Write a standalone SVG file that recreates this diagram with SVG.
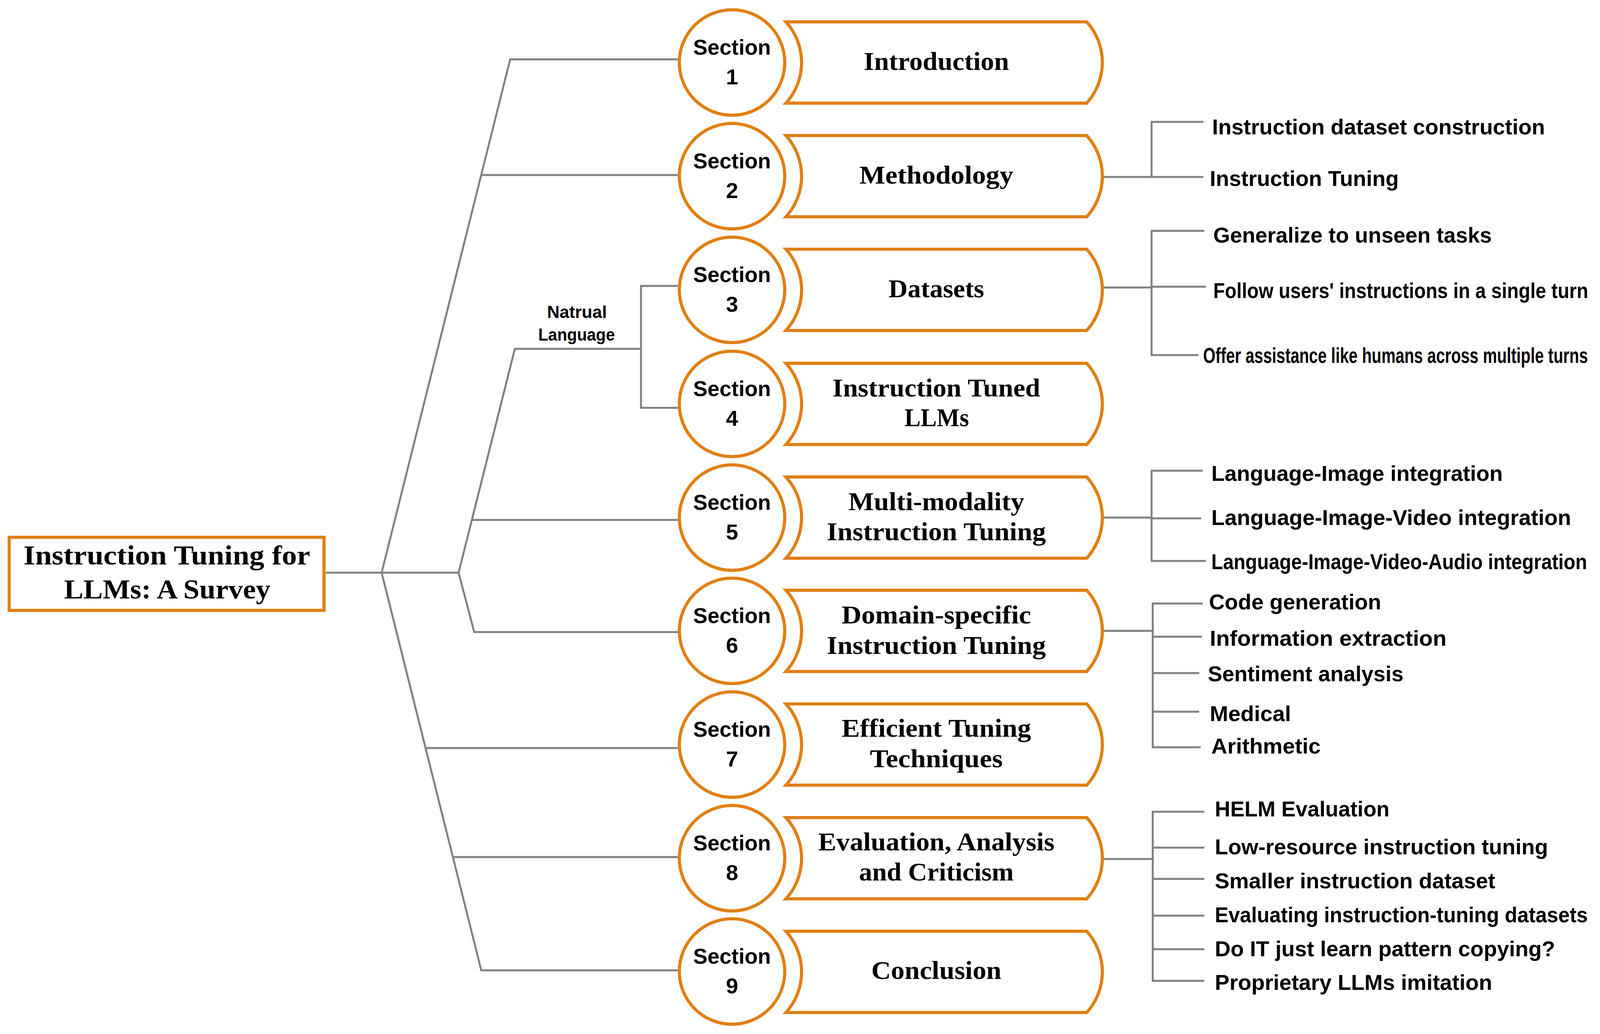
<svg xmlns="http://www.w3.org/2000/svg" width="4496" height="2647" viewBox="0 0 4496 2647">
<style>
.ln{fill:none;stroke:#808080;stroke-width:5;stroke-linejoin:miter}
.or{fill:#fff;stroke:#E07F12;stroke-width:8;stroke-miterlimit:10}
.sec{font-family:"Liberation Sans",Arial,sans-serif;font-weight:bold;font-size:56px;text-anchor:middle;fill:#000}
.ban{font-family:"Liberation Serif","Times New Roman",serif;font-weight:bold;font-size:66px;text-anchor:middle;fill:#000}
.root{font-family:"Liberation Serif","Times New Roman",serif;font-weight:bold;font-size:69px;text-anchor:middle;fill:#000}
.lab{font-family:"Liberation Sans",Arial,sans-serif;font-weight:bold;font-size:56px;fill:#000}
.nl{font-family:"Liberation Sans",Arial,sans-serif;font-weight:bold;font-size:44px;text-anchor:middle;fill:#000}
</style>
<rect width="4496" height="2647" fill="#fff"/>
<g id="connectors">
<path class="ln" d="M834,1466 H977"/>
<path class="ln" d="M1735,152 H1306 L977,1466 L1232,2484 H1735"/>
<path class="ln" d="M1232,448 H1735"/>
<path class="ln" d="M1092,1915 H1735"/>
<path class="ln" d="M1161,2194 H1735"/>
<path class="ln" d="M977,1466 H1174"/>
<path class="ln" d="M1641,893 H1318 L1174,1466 L1214,1618 H1735"/>
<path class="ln" d="M1208,1331 H1735"/>
<path class="ln" d="M1735,732 H1641 V1044 H1735"/>
<path class="ln" d="M2822,453 H3081 M3081,312 H2948 V453"/>
<path class="ln" d="M2822,736 H2948 M3083,591 H2948 V909 H3068 M2948,734 H3087"/>
<path class="ln" d="M2822,1325 H2948 M3079,1205 H2948 V1436 H3087 M2948,1327 H3075"/>
<path class="ln" d="M2822,1615 H2951 M3079,1545 H2951 V1913 H3074 M2951,1630 H3077 M2951,1723 H3070 M2951,1822 H3070"/>
<path class="ln" d="M2822,2199 H2951 M3083,2078 H2951 V2511 H3083 M2951,2170 H3083 M2951,2250 H3083 M2951,2344 H3083 M2951,2430 H3083"/>
</g>
<g id="root">
<rect class="or" x="23.5" y="1375.5" width="806" height="187" stroke-width="9"/>
<text class="root" x="427" y="1445" textLength="734" lengthAdjust="spacingAndGlyphs">Instruction Tuning for</text>
<text class="root" x="428" y="1532" textLength="528" lengthAdjust="spacingAndGlyphs">LLMs: A Survey</text>
</g>
<g id="natural-language">
<text class="nl" x="1477" y="814" textLength="153" lengthAdjust="spacingAndGlyphs">Natrual</text>
<text class="nl" x="1476" y="872" textLength="196" lengthAdjust="spacingAndGlyphs">Language</text>
</g>
<g id="section1">
<circle class="or" cx="1874" cy="160" r="135"/>
<text class="sec" x="1874" y="140" textLength="199" lengthAdjust="spacingAndGlyphs">Section</text>
<text class="sec" x="1874" y="216">1</text>
<path class="or" d="M2012,56 H2782 A155,155 0 0 1 2782,264 H2012 A155,155 0 0 0 2012,56 Z"/>
<text class="ban" x="2397" y="179" textLength="372" lengthAdjust="spacingAndGlyphs">Introduction</text>
</g>
<g id="section2">
<circle class="or" cx="1874" cy="451" r="135"/>
<text class="sec" x="1874" y="431" textLength="199" lengthAdjust="spacingAndGlyphs">Section</text>
<text class="sec" x="1874" y="507">2</text>
<path class="or" d="M2012,347 H2782 A155,155 0 0 1 2782,555 H2012 A155,155 0 0 0 2012,347 Z"/>
<text class="ban" x="2397" y="470" textLength="394" lengthAdjust="spacingAndGlyphs">Methodology</text>
</g>
<g id="section3">
<circle class="or" cx="1874" cy="742" r="135"/>
<text class="sec" x="1874" y="722" textLength="199" lengthAdjust="spacingAndGlyphs">Section</text>
<text class="sec" x="1874" y="798">3</text>
<path class="or" d="M2012,638 H2782 A155,155 0 0 1 2782,846 H2012 A155,155 0 0 0 2012,638 Z"/>
<text class="ban" x="2397" y="761" textLength="245" lengthAdjust="spacingAndGlyphs">Datasets</text>
</g>
<g id="section4">
<circle class="or" cx="1874" cy="1034" r="135"/>
<text class="sec" x="1874" y="1014" textLength="199" lengthAdjust="spacingAndGlyphs">Section</text>
<text class="sec" x="1874" y="1090">4</text>
<path class="or" d="M2012,930 H2782 A155,155 0 0 1 2782,1138 H2012 A155,155 0 0 0 2012,930 Z"/>
<text class="ban" x="2397" y="1015" textLength="532" lengthAdjust="spacingAndGlyphs">Instruction Tuned</text>
<text class="ban" x="2398" y="1091" textLength="165" lengthAdjust="spacingAndGlyphs">LLMs</text>
</g>
<g id="section5">
<circle class="or" cx="1874" cy="1325" r="135"/>
<text class="sec" x="1874" y="1305" textLength="199" lengthAdjust="spacingAndGlyphs">Section</text>
<text class="sec" x="1874" y="1381">5</text>
<path class="or" d="M2012,1221 H2782 A155,155 0 0 1 2782,1429 H2012 A155,155 0 0 0 2012,1221 Z"/>
<text class="ban" x="2397" y="1306" textLength="450" lengthAdjust="spacingAndGlyphs">Multi-modality</text>
<text class="ban" x="2397" y="1383" textLength="561" lengthAdjust="spacingAndGlyphs">Instruction Tuning</text>
</g>
<g id="section6">
<circle class="or" cx="1874" cy="1615" r="135"/>
<text class="sec" x="1874" y="1595" textLength="199" lengthAdjust="spacingAndGlyphs">Section</text>
<text class="sec" x="1874" y="1671">6</text>
<path class="or" d="M2012,1511 H2782 A155,155 0 0 1 2782,1719 H2012 A155,155 0 0 0 2012,1511 Z"/>
<text class="ban" x="2397" y="1596" textLength="485" lengthAdjust="spacingAndGlyphs">Domain-specific</text>
<text class="ban" x="2397" y="1674" textLength="561" lengthAdjust="spacingAndGlyphs">Instruction Tuning</text>
</g>
<g id="section7">
<circle class="or" cx="1874" cy="1906" r="135"/>
<text class="sec" x="1874" y="1886" textLength="199" lengthAdjust="spacingAndGlyphs">Section</text>
<text class="sec" x="1874" y="1962">7</text>
<path class="or" d="M2012,1802 H2782 A155,155 0 0 1 2782,2010 H2012 A155,155 0 0 0 2012,1802 Z"/>
<text class="ban" x="2397" y="1886" textLength="485" lengthAdjust="spacingAndGlyphs">Efficient Tuning</text>
<text class="ban" x="2397" y="1964" textLength="340" lengthAdjust="spacingAndGlyphs">Techniques</text>
</g>
<g id="section8">
<circle class="or" cx="1874" cy="2197" r="135"/>
<text class="sec" x="1874" y="2177" textLength="199" lengthAdjust="spacingAndGlyphs">Section</text>
<text class="sec" x="1874" y="2253">8</text>
<path class="or" d="M2012,2093 H2782 A155,155 0 0 1 2782,2301 H2012 A155,155 0 0 0 2012,2093 Z"/>
<text class="ban" x="2397" y="2177" textLength="605" lengthAdjust="spacingAndGlyphs">Evaluation, Analysis</text>
<text class="ban" x="2397" y="2254" textLength="396" lengthAdjust="spacingAndGlyphs">and Criticism</text>
</g>
<g id="section9">
<circle class="or" cx="1874" cy="2487" r="135"/>
<text class="sec" x="1874" y="2467" textLength="199" lengthAdjust="spacingAndGlyphs">Section</text>
<text class="sec" x="1874" y="2543">9</text>
<path class="or" d="M2012,2384 H2782 A155,155 0 0 1 2782,2592 H2012 A155,155 0 0 0 2012,2384 Z"/>
<text class="ban" x="2397" y="2506" textLength="333" lengthAdjust="spacingAndGlyphs">Conclusion</text>
</g>
<g id="labels-methodology">
<text class="lab" x="3103" y="344" textLength="852" lengthAdjust="spacingAndGlyphs">Instruction dataset construction</text>
<text class="lab" x="3097" y="476" textLength="484" lengthAdjust="spacingAndGlyphs">Instruction Tuning</text>
</g>
<g id="labels-datasets">
<text class="lab" x="3106" y="621" textLength="713" lengthAdjust="spacingAndGlyphs">Generalize to unseen tasks</text>
<text class="lab" x="3106" y="763" font-size="49" textLength="960" lengthAdjust="spacingAndGlyphs">Follow users' instructions in a single turn</text>
<text class="lab" x="3080" y="929" font-size="43" textLength="985" lengthAdjust="spacingAndGlyphs">Offer assistance like humans across multiple turns</text>
</g>
<g id="labels-multimodality">
<text class="lab" x="3101" y="1231" textLength="746" lengthAdjust="spacingAndGlyphs">Language-Image integration</text>
<text class="lab" x="3101" y="1344" textLength="921" lengthAdjust="spacingAndGlyphs">Language-Image-Video integration</text>
<text class="lab" x="3101" y="1457" font-size="49" textLength="962" lengthAdjust="spacingAndGlyphs">Language-Image-Video-Audio integration</text>
</g>
<g id="labels-domain">
<text class="lab" x="3095" y="1560" textLength="441" lengthAdjust="spacingAndGlyphs">Code generation</text>
<text class="lab" x="3097" y="1653" textLength="606" lengthAdjust="spacingAndGlyphs">Information extraction</text>
<text class="lab" x="3092" y="1744" textLength="501" lengthAdjust="spacingAndGlyphs">Sentiment analysis</text>
<text class="lab" x="3097" y="1846" textLength="208" lengthAdjust="spacingAndGlyphs">Medical</text>
<text class="lab" x="3101" y="1929" textLength="280" lengthAdjust="spacingAndGlyphs">Arithmetic</text>
</g>
<g id="labels-evaluation">
<text class="lab" x="3110" y="2090" textLength="447" lengthAdjust="spacingAndGlyphs">HELM Evaluation</text>
<text class="lab" x="3110" y="2187" textLength="853" lengthAdjust="spacingAndGlyphs">Low-resource instruction tuning</text>
<text class="lab" x="3110" y="2274" textLength="718" lengthAdjust="spacingAndGlyphs">Smaller instruction dataset</text>
<text class="lab" x="3110" y="2361" font-size="53" textLength="955" lengthAdjust="spacingAndGlyphs">Evaluating instruction-tuning datasets</text>
<text class="lab" x="3110" y="2448" textLength="871" lengthAdjust="spacingAndGlyphs">Do IT just learn pattern copying?</text>
<text class="lab" x="3110" y="2534" textLength="710" lengthAdjust="spacingAndGlyphs">Proprietary LLMs imitation</text>
</g>
</svg>
